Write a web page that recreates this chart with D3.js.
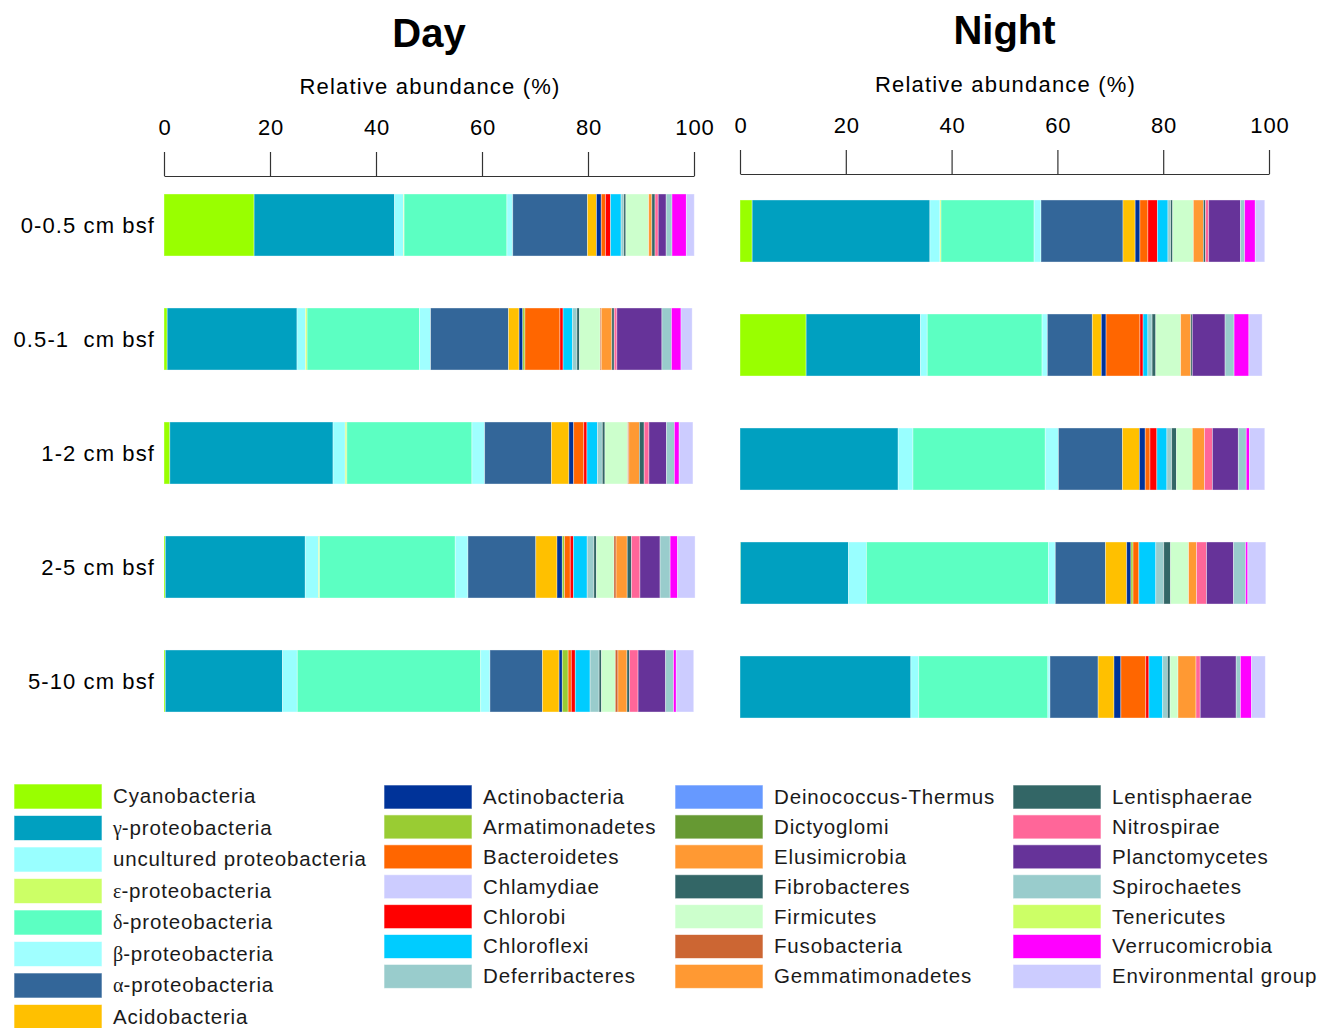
<!DOCTYPE html>
<html>
<head>
<meta charset="utf-8">
<script src="https://cdn.jsdelivr.net/npm/d3@7"></script>
<style>
  html, body { margin: 0; padding: 0; background: #fff; }
  svg { display: block; font-family: "Liberation Sans", Arial, sans-serif; }
  .depth { white-space: pre; }
</style>
</head>
<body>
<svg id="chart" width="1332" height="1028"></svg>
<script>
// Phyla / classes, in stacking order
const phyla = [
  "Cyanobacteria", "γ-proteobacteria", "uncultured proteobacteria", "ε-proteobacteria",
  "δ-proteobacteria", "β-proteobacteria", "α-proteobacteria", "Acidobacteria",
  "Actinobacteria", "Armatimonadetes", "Bacteroidetes", "Chlamydiae", "Chlorobi",
  "Chloroflexi", "Deferribacteres", "Deinococcus-Thermus", "Dictyoglomi", "Elusimicrobia",
  "Fibrobacteres", "Firmicutes", "Fusobacteria", "Gemmatimonadetes", "Lentisphaerae",
  "Nitrospirae", "Planctomycetes", "Spirochaetes", "Tenericutes", "Verrucomicrobia",
  "Environmental group"
];
const phylaColors = [
  "#99ff00", "#00a0c0", "#99ffff", "#ccff66",
  "#5cffc2", "#a0ffff", "#336699", "#ffc000",
  "#003399", "#99cc33", "#ff6600", "#ccccff", "#ff0000",
  "#00ccff", "#99cccc", "#6699ff", "#669933", "#ff9933",
  "#336666", "#ccffcc", "#cc6633", "#ff9933", "#336666",
  "#ff6699", "#663399", "#99cccc", "#ccff66", "#ff00ff",
  "#ccccff"
];
const depths = ["0-0.5 cm bsf", "0.5-1  cm bsf", "1-2 cm bsf", "2-5 cm bsf", "5-10 cm bsf"];
const ticks = [0, 20, 40, 60, 80, 100];

// Relative abundance (%) per depth, one value per phylum (order as in `phyla`)
const day_0_05  = [17.0, 26.5, 1.7, 0.1, 19.4, 1.1, 14.1, 1.7, 0.9, 0, 0.8, 0, 0.95, 2.0, 0.5, 0, 0, 0, 0.4, 4.3, 0, 0.6, 0.6, 0.6, 1.5, 1.1, 0, 2.7, 1.5];
const day_05_1  = [0.6, 24.5, 1.6, 0.3, 21.2, 2.1, 14.7, 2.0, 0.7, 0.4, 6.6, 0, 0.6, 1.8, 0.8, 0, 0, 0, 0.5, 3.9, 0.2, 2.0, 0.45, 0.5, 8.5, 1.8, 0, 1.8, 2.1];
const day_1_2   = [1.1, 30.8, 2.3, 0.3, 23.6, 2.4, 12.6, 3.3, 0.9, 0, 1.9, 0, 0.6, 2.0, 0.9, 0, 0, 0, 0.5, 4.3, 0.2, 2.0, 0.9, 0.9, 3.3, 1.5, 0, 0.9, 2.6];
const day_2_5   = [0.25, 26.4, 2.5, 0.2, 25.6, 2.4, 12.8, 4.0, 1.0, 0.4, 1.1, 0, 0.6, 2.6, 1.25, 0, 0, 0, 0.5, 3.3, 0.4, 2.1, 0.8, 1.6, 3.8, 1.9, 0, 1.4, 3.3];
const day_5_10  = [0.25, 22.1, 2.8, 0, 34.6, 1.75, 9.9, 3.15, 0.6, 1.1, 0.6, 0, 0.75, 2.8, 1.7, 0, 0, 0, 0.45, 2.6, 0.5, 1.7, 0.5, 1.6, 5.2, 1.5, 0, 0.5, 3.3];

const night_0_05 = [2.3, 33.6, 1.9, 0.2, 17.6, 1.3, 15.5, 2.3, 0.9, 0, 1.5, 0, 1.8, 2.0, 0.5, 0, 0, 0, 0.4, 3.9, 0, 1.9, 0.4, 0.6, 6.0, 0.8, 0, 2.0, 1.8];
const night_05_1 = [12.5, 21.6, 1.3, 0, 21.7, 1.0, 8.5, 1.7, 0.9, 0, 6.4, 0, 0.6, 0.9, 0.8, 0, 0, 0, 0.7, 4.7, 0, 1.9, 0.3, 0, 6.2, 1.7, 0, 2.8, 2.5];
const night_1_2  = [0, 29.9, 2.8, 0, 25.0, 2.5, 12.1, 3.2, 1.1, 0, 0.9, 0, 1.3, 1.9, 0.9, 0, 0, 0, 0.9, 3.0, 0, 2.3, 0, 1.5, 4.9, 1.5, 0, 0.6, 2.9];
const night_2_5  = [0.1, 20.4, 3.4, 0, 34.4, 1.3, 9.5, 4.0, 0.8, 0.4, 1.1, 0, 0, 3.2, 1.5, 0, 0, 0, 1.3, 3.4, 0, 1.5, 0, 1.9, 5.1, 2.3, 0, 0.4, 3.4];
const night_5_10 = [0, 32.3, 1.5, 0, 24.4, 0.4, 9.1, 3.0, 1.3, 0, 4.7, 0, 0.6, 2.6, 0.9, 0, 0, 0, 0.5, 1.5, 0, 3.4, 0, 0.8, 6.8, 0.8, 0, 2.1, 2.6];

const dayRows = [day_0_05, day_05_1, day_1_2, day_2_5, day_5_10];
const nightRows = [night_0_05, night_05_1, night_1_2, night_2_5, night_5_10];

const svg = d3.select("#chart");
const color = d3.scaleOrdinal().domain(phyla).range(phylaColors);

function drawPanel(cfg) {
  const g = svg.append("g");
  const x = d3.scaleLinear().domain([0, 100]).range([cfg.x0, cfg.x1]);
  const y = d3.scaleBand().domain(depths).range([cfg.yTop, cfg.yTop + 114 * depths.length]).paddingInner(0.456).paddingOuter(0.228);

  // Title and axis caption
  g.append("text")
    .attr("x", (cfg.x0 + cfg.x1) / 2).attr("y", cfg.titleY)
    .attr("text-anchor", "middle").attr("font-size", 40).attr("font-weight", "bold")
    .text(cfg.title);
  g.append("text")
    .attr("x", (cfg.x0 + cfg.x1) / 2 + 1).attr("y", cfg.captionY)
    .attr("text-anchor", "middle").attr("font-size", 22).attr("letter-spacing", 1.2)
    .text("Relative abundance (%)");

  // Top axis
  const ax = g.append("g")
    .attr("transform", `translate(0,${cfg.axisY})`)
    .call(d3.axisTop(x).tickValues(ticks).tickSizeInner(24).tickSizeOuter(0).tickPadding(17));
  ax.selectAll("text")
    .attr("font-size", 22).attr("letter-spacing", 0.8).attr("dx", 0.4)
    .attr("fill", "#000").attr("font-family", "Liberation Sans, Arial, sans-serif");
  ax.selectAll("line, path").attr("stroke", "#333").attr("stroke-width", 1.2);

  // Stacked bars
  const rows = cfg.rows.map((vals, i) => {
    let acc = 0;
    return vals.map((v, j) => {
      const s = { depth: depths[i], phylum: phyla[j], x0: acc, x1: acc + v };
      acc += v;
      return s;
    }).filter(d => d.x1 > d.x0);
  });
  g.selectAll("g.row").data(rows).join("g").attr("class", "row")
    .selectAll("rect").data(d => d).join("rect")
      .attr("x", d => x(d.x0))
      .attr("y", d => y(d.depth))
      .attr("width", d => Math.max(0, x(d.x1) - x(d.x0)))
      .attr("height", y.bandwidth())
      .attr("fill", d => color(d.phylum))
      .attr("stroke", "rgba(255,255,255,0.45)")
      .attr("stroke-width", 0.8);

  if (cfg.labels) {
    g.selectAll("text.depth").data(depths).join("text")
      .attr("class", "depth")
      .attr("x", 155)
      .attr("y", d => y(d) + y.bandwidth() / 2)
      .attr("dy", "0.35em")
      .attr("text-anchor", "end").attr("font-size", 22).attr("letter-spacing", 1.1)
      .text(d => d);
  }
}

drawPanel({ title: "Day", x0: 164, x1: 694, titleY: 47, captionY: 94, axisY: 176, yTop: 168, rows: dayRows, labels: true });
drawPanel({ title: "Night", x0: 740, x1: 1269, titleY: 44, captionY: 92, axisY: 174, yTop: 174, rows: nightRows, labels: false });

// Legend: four columns of swatches
const legendCols = [
  { x: 14, start: 0, count: 8, y0: 784, step: 31.5, h: 25 },
  { x: 384, start: 8, count: 7, y0: 785, step: 29.9, h: 24 },
  { x: 675, start: 15, count: 7, y0: 785, step: 29.9, h: 24 },
  { x: 1013, start: 22, count: 7, y0: 785, step: 29.9, h: 24 }
];
const greek = /^([αβγδε])(-.*)$/;
legendCols.forEach(col => {
  const items = phyla.slice(col.start, col.start + col.count);
  const lg = svg.append("g");
  const it = lg.selectAll("g").data(items).join("g")
    .attr("transform", (d, i) => `translate(${col.x},${col.y0 + i * col.step})`);
  it.append("rect")
    .attr("width", 88).attr("height", col.h)
    .attr("fill", d => color(d))
    .attr("stroke", "rgba(255,255,255,0.6)").attr("stroke-width", 1);
  const t = it.append("text")
    .attr("x", 99).attr("y", col.h / 2).attr("dy", "0.34em")
    .attr("font-size", 20.5).attr("letter-spacing", 0.85).attr("fill", "#1a1a1a");
  t.each(function (d) {
    const m = d.match(greek);
    const el = d3.select(this);
    if (m) {
      el.append("tspan").attr("font-family", "Liberation Serif, Times New Roman, serif").attr("font-size", 20).attr("letter-spacing", 0).text(m[1]);
      el.append("tspan").text(m[2]);
    } else {
      el.text(d);
    }
  });
});
</script>
</body>
</html>
